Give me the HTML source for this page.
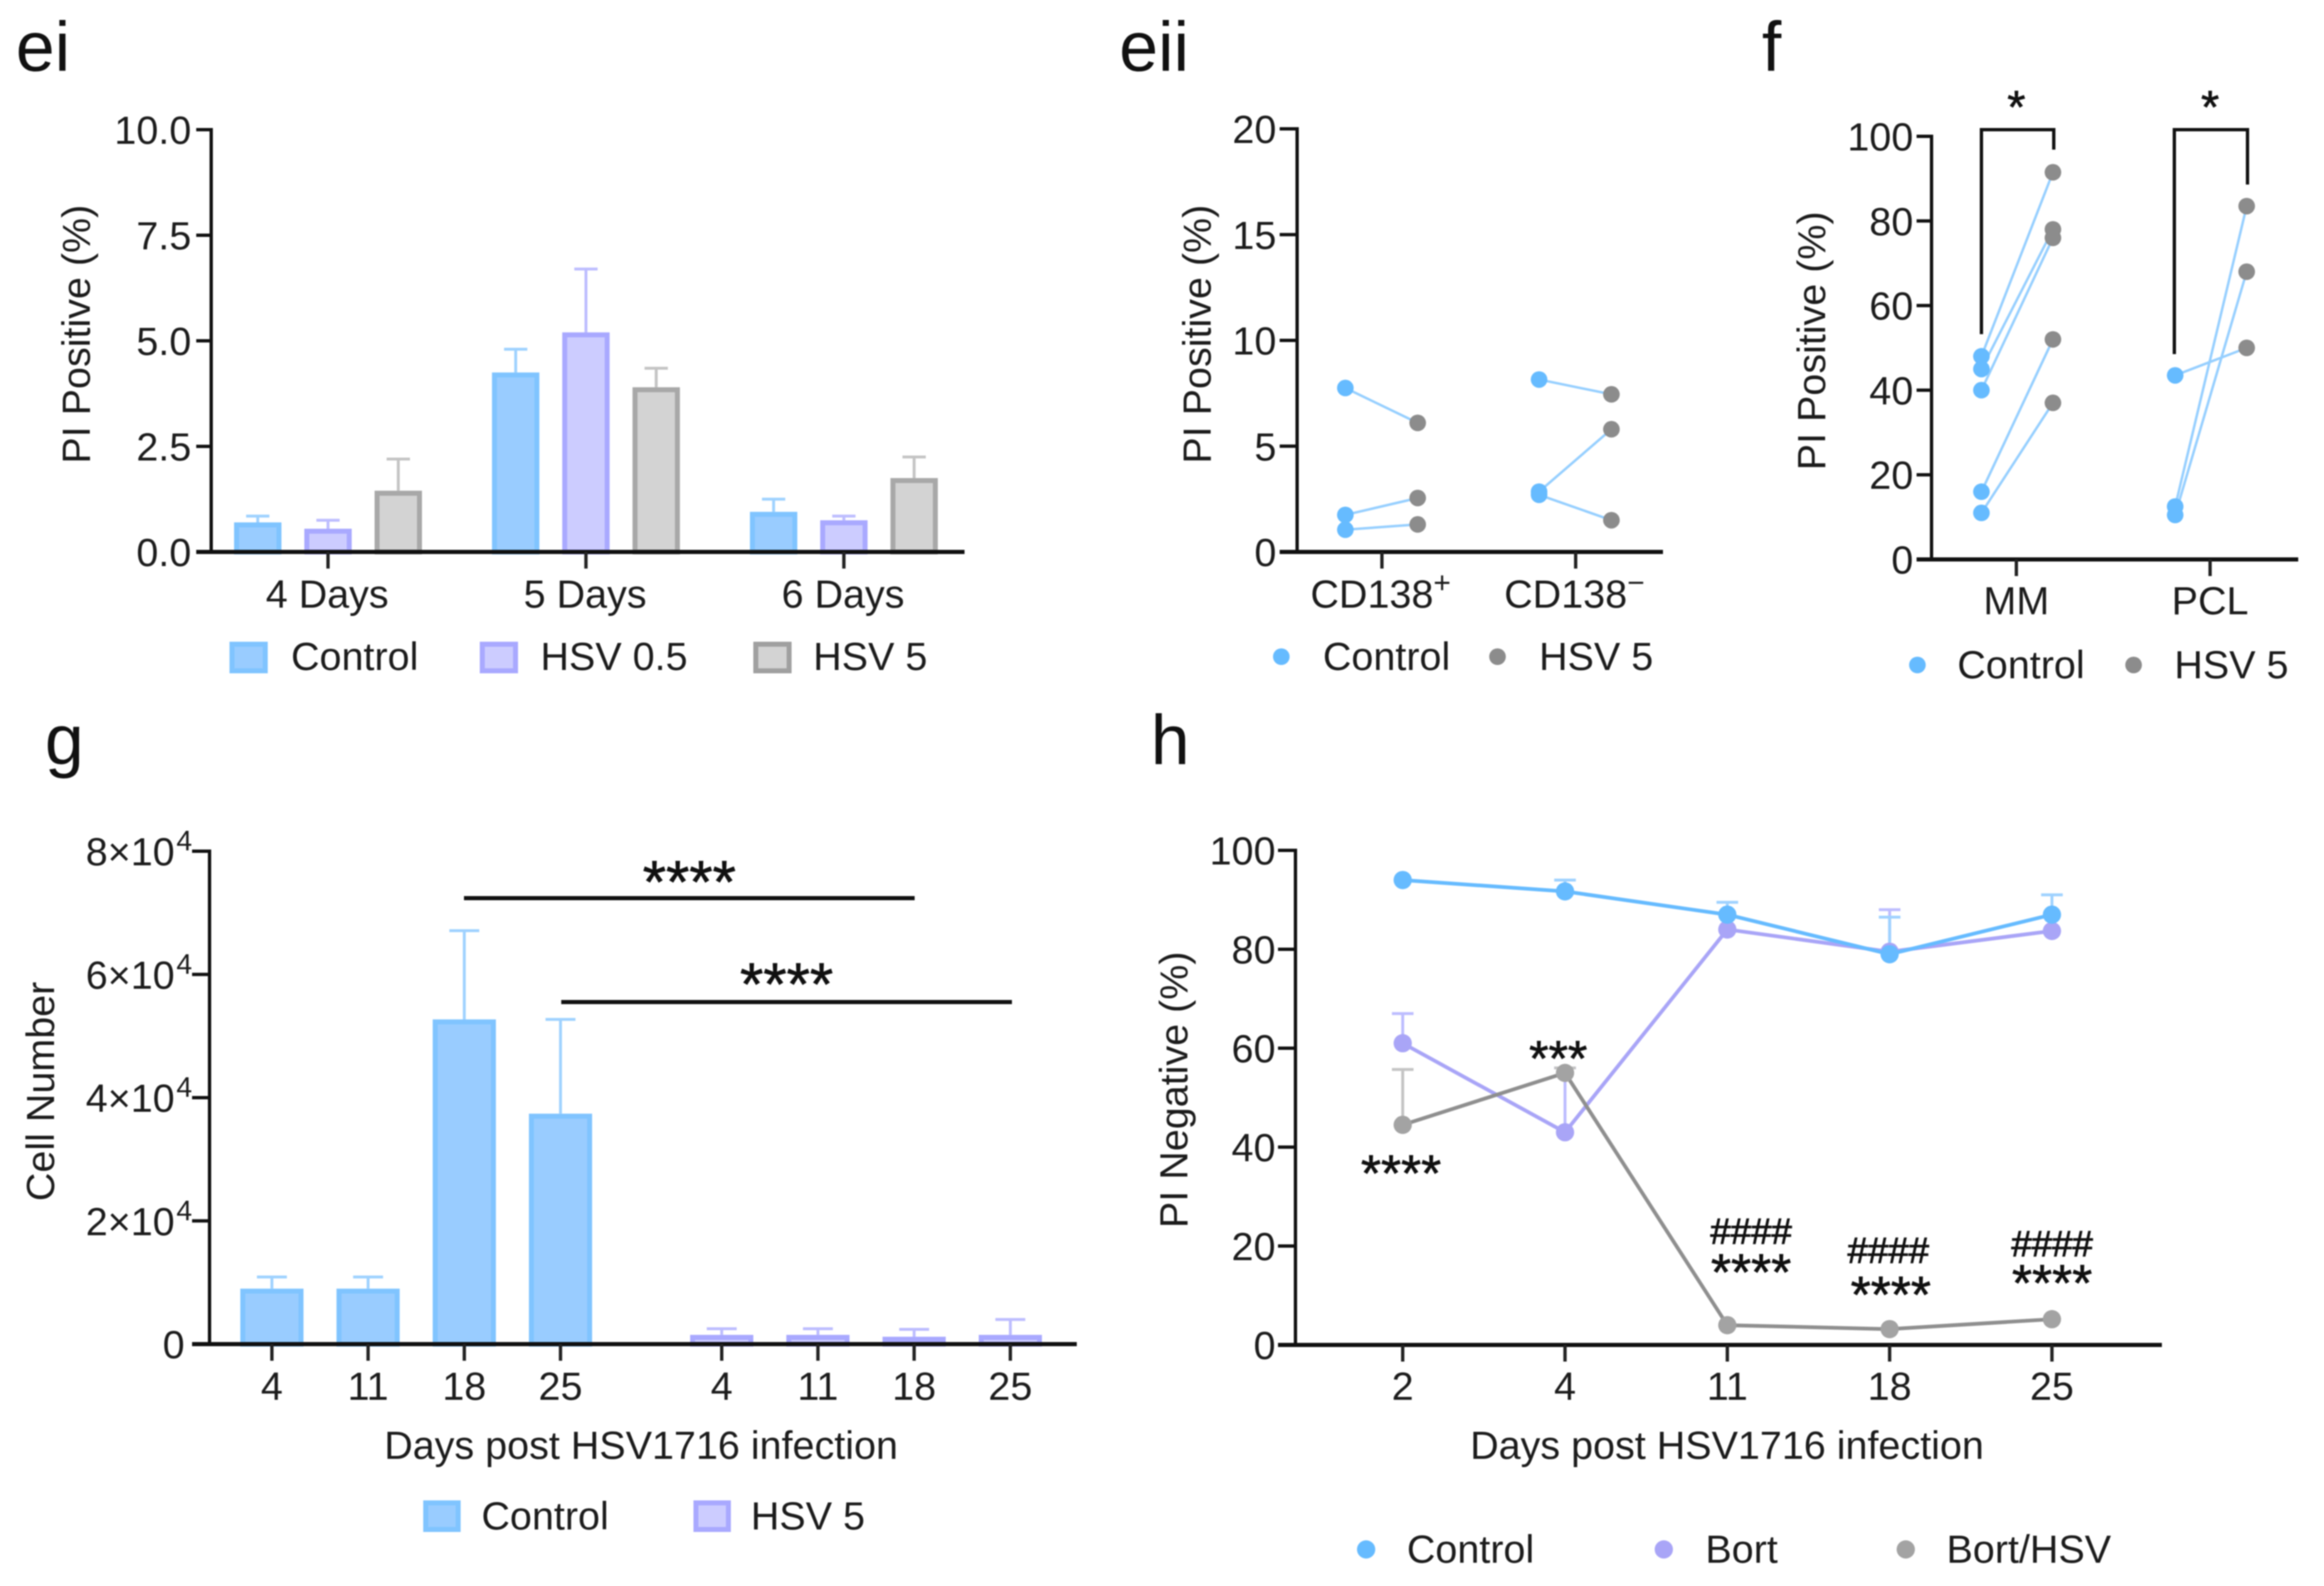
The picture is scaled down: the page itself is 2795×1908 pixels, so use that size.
<!DOCTYPE html>
<html lang="en">
<head>
<meta charset="utf-8">
<title>PI staining and cell number panels</title>
<style>
html,body{margin:0;padding:0;background:#fff;}
#figure{display:block;width:2795px;height:1908px;filter:blur(0.8px);}
text{font-family:"Liberation Sans",sans-serif;fill:#1c1c1c;font-size:47.5px;}
.panel{font-size:84px;fill:#111;}
.star{fill:#111;stroke:#111;stroke-width:0.8px;text-anchor:middle;}
.hash{font-size:44px;fill:#111;stroke:#111;stroke-width:1px;text-anchor:middle;}
</style>
</head>
<body>
<svg id="figure" xmlns="http://www.w3.org/2000/svg" width="2795" height="1908" viewBox="0 0 2795 1908">
  <rect x="0" y="0" width="2795" height="1908" fill="#fff"/>

  <!-- Panel ei -->
  <g id="ei">
    <text class="panel" x="19" y="85">ei</text>
    <text transform="translate(108,402) rotate(-90)" text-anchor="middle">PI Positive (%)</text>
    <rect x="279" y="775" width="40" height="32" fill="#99CCFF" stroke="#80C4FF" stroke-width="6"/>
    <text x="350" y="806">Control</text>
    <rect x="580" y="775" width="40" height="32" fill="#CCCCFF" stroke="#A9A9FF" stroke-width="6"/>
    <text x="650" y="806">HSV 0.5</text>
    <rect x="909" y="775" width="40" height="32" fill="#D3D3D3" stroke="#A0A0A0" stroke-width="6"/>
    <text x="978" y="806">HSV 5</text>
  </g>

  <!-- Panel eii -->
  <g id="eii">
    <text class="panel" x="1346" y="85">eii</text>
    <text transform="translate(1456,402) rotate(-90)" text-anchor="middle">PI Positive (%)</text>
    <circle cx="1541" cy="790" r="10" fill="#66BBFF"/>
    <text x="1591" y="806">Control</text>
    <circle cx="1801" cy="790" r="10" fill="#8c8c8c"/>
    <text x="1851" y="806">HSV 5</text>
  </g>

  <!-- Panel f -->
  <g id="f">
    <text class="panel" x="2119" y="85">f</text>
    <text transform="translate(2195,410) rotate(-90)" text-anchor="middle">PI Positive (%)</text>
    <path d="M2383 402V156H2470V180" fill="none" stroke="#111" stroke-width="4"/>
    <path d="M2615 426V156H2703V222" fill="none" stroke="#111" stroke-width="4"/>
    <text class="star" x="2425" y="148" style="font-size:56px">*</text>
    <text class="star" x="2658" y="148" style="font-size:56px">*</text>
    <circle cx="2306" cy="800" r="10" fill="#66BBFF"/>
    <text x="2354" y="816">Control</text>
    <circle cx="2566" cy="800" r="10" fill="#8c8c8c"/>
    <text x="2615" y="816">HSV 5</text>
  </g>

  <!-- Panel g -->
  <g id="g">
    <text class="panel" x="54" y="919">g</text>
    <text transform="translate(65,1313) rotate(-90)" text-anchor="middle">Cell Number</text>
    <text x="771" y="1755" text-anchor="middle">Days post HSV1716 infection</text>
    <rect x="558" y="1078" width="542" height="5" fill="#111"/>
    <rect x="675" y="1203" width="542" height="5" fill="#111"/>
    <text class="star" x="829" y="1086" style="font-size:72px">****</text>
    <text class="star" x="946" y="1209" style="font-size:72px">****</text>
    <rect x="512" y="1808" width="39" height="32" fill="#99CCFF" stroke="#80C4FF" stroke-width="6"/>
    <text x="579" y="1840">Control</text>
    <rect x="837" y="1808" width="39" height="32" fill="#CCCCFF" stroke="#A9A9FF" stroke-width="6"/>
    <text x="903" y="1840">HSV 5</text>
  </g>

  <!-- Panel h -->
  <g id="h">
    <text class="panel" x="1384" y="919">h</text>
    <text transform="translate(1428,1311) rotate(-90)" text-anchor="middle">PI Negative (%)</text>
    <text x="2077" y="1755" text-anchor="middle">Days post HSV1716 infection</text>
    <circle cx="1643" cy="1864" r="11" fill="#66BBFF"/>
    <text x="1692" y="1880">Control</text>
    <circle cx="2001" cy="1864" r="11" fill="#A9A5F7"/>
    <text x="2051" y="1880">Bort</text>
    <circle cx="2292" cy="1864" r="11" fill="#A3A3A3"/>
    <text x="2341" y="1880">Bort/HSV</text>
  </g>

  <g id="h-annotations">
    <text class="star" x="1685" y="1433" style="font-size:62px">****</text>
    <text class="star" x="1874" y="1294" style="font-size:60px">***</text>
    <text class="hash" x="2106" y="1496">####</text>
    <text class="star" x="2106" y="1552" style="font-size:62px">****</text>
    <text class="hash" x="2271" y="1519">####</text>
    <text class="star" x="2274" y="1579" style="font-size:62px">****</text>
    <text class="hash" x="2468" y="1511">####</text>
    <text class="star" x="2468" y="1565" style="font-size:62px">****</text>
  </g>
</svg>

<script>
// ---------- Panel ei data ----------
const eiCategories = ['4 Days', '5 Days', '6 Days'];
const eiTicks = [0, 2.5, 5, 7.5, 10];
const eiTickLabels = ['0.0', '2.5', '5.0', '7.5', '10.0'];
const eiControl = [0.7, 4.25, 0.95];
const eiControlErr = [0.85, 4.8, 1.25];
const eiHsv05 = [0.55, 5.2, 0.75];
const eiHsv05Err = [0.75, 6.7, 0.85];
const eiHsv5 = [1.45, 3.9, 1.75];
const eiHsv5Err = [2.2, 4.35, 2.25];

// ---------- Panel eii data ----------
const eiiCategories = ['CD138', 'CD138'];
const eiiCategorySup = ['+', '\u2212'];
const eiiTicks = [0, 5, 10, 15, 20];
const eiiGroup = [0, 0, 0, 1, 1, 1];
const eiiControl = [7.75, 1.75, 1.05, 8.15, 2.85, 2.7];
const eiiHsv5 = [6.1, 2.55, 1.3, 7.45, 5.8, 1.5];

// ---------- Panel f data ----------
const fCategories = ['MM', 'PCL'];
const fTicks = [0, 20, 40, 60, 80, 100];
const fGroup = [0, 0, 0, 0, 0, 1, 1, 1];
const fControl = [48, 45, 40, 16, 11, 43.5, 12.5, 10.5];
const fHsv5 = [91.5, 78, 76, 52, 37, 50, 83.5, 68];

// ---------- Panel g data ----------
const gCategories = ['4', '11', '18', '25'];
const gTicks = [0, 20000, 40000, 60000, 80000];
const gControl = [9000, 9000, 52700, 37400];
const gControlErr = [10900, 10900, 67100, 52700];
const gHsv5 = [1500, 1500, 1200, 1500];
const gHsv5Err = [2500, 2500, 2400, 4000];

// ---------- Panel h data ----------
const hCategories = ['2', '4', '11', '18', '25'];
const hTicks = [0, 20, 40, 60, 80, 100];
const hControl = [94, 91.7, 87, 79, 87];
const hControlErr = [94, 94, 89.5, 86.5, 91];
const hBort = [61, 43, 84, 79.5, 83.7];
const hBortErr = [67, 56, 84, 88, 83.7];
const hBortHsv = [44.5, 55, 4, 3.2, 5.2];
const hBortHsvErr = [55.7, 56, 4, 3.2, 5.2];

// ---------- Shared colours ----------
const BLUE = '#66BBFF', BLUE_FILL = '#99CCFF', BLUE_EDGE = '#80C4FF', BLUE_ERR = '#9FD2FF';
const PURPLE = '#A9A5F7', PURPLE_FILL = '#CCCCFF', PURPLE_EDGE = '#A9A9FF', PURPLE_ERR = '#BDBDFF';
const GREY = '#9B9B9B', GREY_FILL = '#D3D3D3', GREY_EDGE = '#A8A8A8', GREY_ERR = '#C4C4C4';
const AXIS = '#111';
const SVGNS = 'http://www.w3.org/2000/svg';

function node(parent, tag, attrs) {
  const el = document.createElementNS(SVGNS, tag);
  for (const k in attrs) el.setAttribute(k, attrs[k]);
  parent.appendChild(el);
  return el;
}

function linear(v0, v1, p0, p1) {
  return v => p0 + (v - v0) / (v1 - v0) * (p1 - p0);
}

function drawYAxis(panel, axisX, yTop, yBottom, tickLeft, y, ticks, labelRight, labels) {
  const line = node(panel, 'rect', {x: axisX - 2, y: yTop - 2, width: 4, height: yBottom - yTop + 4, fill: AXIS});
  
  
  ticks.forEach((t, i) => {
    const m = node(panel, 'rect', {x: tickLeft, y: y(t) - 2, width: axisX - tickLeft, height: 4, fill: AXIS});
    
    
    const lab = node(panel, 'text', {x: labelRight, y: y(t) + 17, 'text-anchor': 'end'});
    
    
    if (labels) labels(lab, t, i); else lab.textContent = String(t);
  });
}

function drawXAxis(panel, x0, x1, yPos) {
  const line = node(panel, 'rect', {x: x0, y: yPos - 2.5, width: x1 - x0, height: 5, fill: AXIS});
  
  
}

function drawXTick(panel, x, yPos, len) {
  const m = node(panel, 'rect', {x: x - 2, y: yPos, width: 4, height: len, fill: '#222'});
  
  
}

function drawXLabel(panel, x, y, text) {
  const lab = node(panel, 'text', {x: x, y: y, 'text-anchor': 'middle'});
  lab.textContent = text;
  
  
}

function drawErr(panel, x, yVal, yErr, capHalf, color) {
  const d = 'M' + x + ' ' + yVal + 'V' + yErr + 'M' + (x - capHalf) + ' ' + yErr + 'H' + (x + capHalf);
  const e = node(panel, 'path', {d: d, stroke: color, 'stroke-width': 3.5, fill: 'none'});
  
  
}

function drawBar(panel, x, width, yVal, yBase, fill, edge) {
  const b = node(panel, 'rect', {x: x - width / 2 + 3, y: yVal + 3, width: width - 6, height: Math.max(yBase - yVal - 3, 0), fill: fill, stroke: edge, 'stroke-width': 6});
  
  
}

function drawDot(panel, x, y, r, fill) {
  const c = node(panel, 'circle', {cx: x, cy: y, r: r, fill: fill});
  
  
}

function drawSegment(panel, x1, y1, x2, y2, color, w) {
  const l = node(panel, 'line', {x1: x1, y1: y1, x2: x2, y2: y2, stroke: color, 'stroke-width': w});
  
  
}

// ---------- Draw ei ----------
(function () {
  const panel = document.getElementById('ei');
  const y = linear(0, 10, 664, 156);
  const groupX = i => 394.5 + i * 310.2;
  const series = [
    [eiControl, eiControlErr, -84.5, BLUE_FILL, BLUE_EDGE, BLUE_ERR],
    [eiHsv05, eiHsv05Err, 0, PURPLE_FILL, PURPLE_EDGE, PURPLE_ERR],
    [eiHsv5, eiHsv5Err, 84.5, GREY_FILL, GREY_EDGE, GREY_ERR]
  ];
  series.forEach(s => {
    s[0].forEach((v, i) => {
      const x = groupX(i) + s[2];
      drawErr(panel, x, y(v), y(s[1][i]), 14, s[5]);
      drawBar(panel, x, 57, y(v), y(0), s[3], s[4]);
    });
  });
  drawYAxis(panel, 254, 156, 664, 236, y, eiTicks, 230, (lab, t, i) => { lab.textContent = eiTickLabels[i]; });
  drawXAxis(panel, 236, 1160, 664);
  eiCategories.forEach((c, i) => {
    drawXTick(panel, groupX(i), 664, 20);
    drawXLabel(panel, groupX(i) - 1, 731, c);
  });
})();

// ---------- Draw eii ----------
(function () {
  const panel = document.getElementById('eii');
  const y = linear(0, 20, 664, 155);
  const groupX = i => 1662 + i * 233;
  eiiControl.forEach((v, i) => {
    const cx = groupX(eiiGroup[i]);
    drawSegment(panel, cx - 44, y(v), cx + 43, y(eiiHsv5[i]), '#96CFFF', 3);
  });
  eiiControl.forEach((v, i) => {
    const cx = groupX(eiiGroup[i]);
    drawDot(panel, cx - 44, y(v), 10, BLUE);
    drawDot(panel, cx + 43, y(eiiHsv5[i]), 10, '#8c8c8c');
  });
  drawYAxis(panel, 1560, 155, 664, 1539, y, eiiTicks, 1535);
  drawXAxis(panel, 1539, 2000, 664);
  eiiCategories.forEach((c, i) => {
    drawXTick(panel, groupX(i), 664, 20);
    const lab = node(panel, 'text', {x: groupX(i) - 86, y: 731});
    lab.textContent = c;
    
    
    const sup = node(lab, 'tspan', {dy: -18, style: 'font-size:36px'});
    sup.textContent = eiiCategorySup[i];
  });
})();

// ---------- Draw f ----------
(function () {
  const panel = document.getElementById('f');
  const y = linear(0, 100, 673, 164);
  const groupX = i => 2425 + i * 233;
  fControl.forEach((v, i) => {
    const cx = groupX(fGroup[i]);
    drawSegment(panel, cx - 42, y(v), cx + 44, y(fHsv5[i]), '#96CFFF', 3);
  });
  fControl.forEach((v, i) => {
    const cx = groupX(fGroup[i]);
    drawDot(panel, cx - 42, y(v), 10, BLUE);
    drawDot(panel, cx + 44, y(fHsv5[i]), 10, '#8c8c8c');
  });
  drawYAxis(panel, 2323, 164, 673, 2305, y, fTicks, 2301);
  drawXAxis(panel, 2305, 2764, 673);
  fCategories.forEach((c, i) => {
    drawXTick(panel, groupX(i), 673, 20);
    drawXLabel(panel, groupX(i), 739, c);
  });
})();

// ---------- Draw g ----------
(function () {
  const panel = document.getElementById('g');
  const y = linear(0, 80000, 1617, 1024);
  const ctrlX = i => 327 + i * 115.7;
  const hsvX = i => 868 + i * 115.7;
  gControl.forEach((v, i) => {
    drawErr(panel, ctrlX(i), y(v), y(gControlErr[i]), 18, BLUE_ERR);
    drawBar(panel, ctrlX(i), 76, y(v), y(0), BLUE_FILL, BLUE_EDGE);
  });
  gHsv5.forEach((v, i) => {
    drawErr(panel, hsvX(i), y(v), y(gHsv5Err[i]), 18, PURPLE_ERR);
    drawBar(panel, hsvX(i), 76, y(v), y(0), PURPLE_FILL, PURPLE_EDGE);
  });
  drawYAxis(panel, 252, 1024, 1617, 231, y, gTicks, 231, (lab, t) => {
    if (t === 0) { lab.textContent = '0'; lab.setAttribute('x', 222); return; }
    lab.textContent = (t / 10000) + '\u00d710';
    const sup = node(lab, 'tspan', {dy: -18, dx: 2, style: 'font-size:34px'});
    sup.textContent = '4';
  });
  drawXAxis(panel, 231, 1295, 1617);
  gCategories.forEach((c, i) => {
    drawXTick(panel, ctrlX(i), 1617, 20);
    drawXLabel(panel, ctrlX(i), 1684, c);
    drawXTick(panel, hsvX(i), 1617, 20);
    drawXLabel(panel, hsvX(i), 1684, c);
  });
})();

// ---------- Draw h ----------
(function () {
  const panel = document.getElementById('h');
  const y = linear(0, 100, 1618, 1023);
  const x = i => 1687 + i * 195.2;
  const series = [
    [hBort, hBortErr, PURPLE, PURPLE_ERR],
    [hControl, hControlErr, BLUE, BLUE_ERR],
    [hBortHsv, hBortHsvErr, '#8f8f8f', GREY_ERR]
  ];
  series.forEach(s => {
    s[0].forEach((v, i) => {
      if (s[1][i] > v) drawErr(panel, x(i), y(v), y(s[1][i]), 13, s[3]);
    });
  });
  series.forEach(s => {
    s[0].forEach((v, i) => {
      if (i > 0) drawSegment(panel, x(i - 1), y(s[0][i - 1]), x(i), y(v), s[2], 4.5);
    });
    s[0].forEach((v, i) => {
      drawDot(panel, x(i), y(v), 11, s[2] === '#8f8f8f' ? '#A3A3A3' : s[2]);
    });
  });
  drawYAxis(panel, 1558, 1023, 1618, 1537, y, hTicks, 1534);
  drawXAxis(panel, 1537, 2600, 1618);
  hCategories.forEach((c, i) => {
    drawXTick(panel, x(i), 1618, 20);
    drawXLabel(panel, x(i), 1684, c);
  });
})();
</script>
</body>
</html>
